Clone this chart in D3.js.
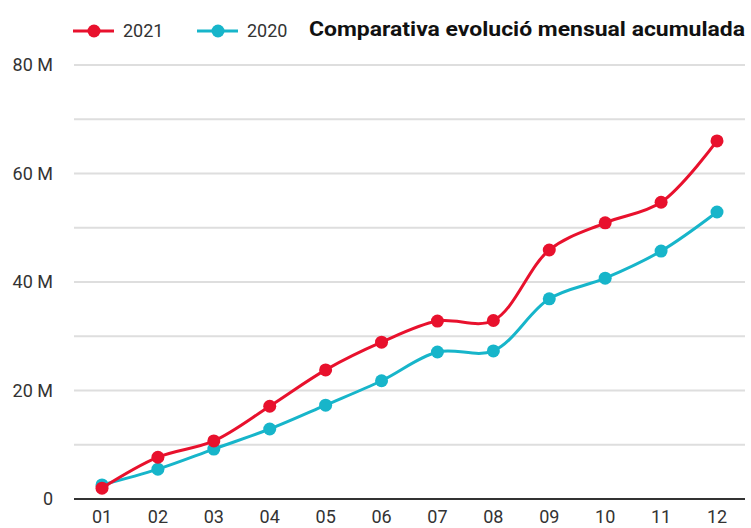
<!DOCTYPE html>
<html>
<head>
<meta charset="utf-8">
<script src="https://cdn.jsdelivr.net/npm/d3@7"></script>
<style>
  body { margin: 0; background: #fff; }
  text { font-family: Roboto, sans-serif; }
</style>
</head>
<body>
<div id="chart"></div>
<script>
const months = ['01', '02', '03', '04', '05', '06', '07', '08', '09', '10', '11', '12'];
const values2021 = [2.0, 7.7, 10.7, 17.1, 23.8, 28.9, 32.8, 32.9, 45.9, 50.9, 54.7, 66.0];
const values2020 = [2.6, 5.5, 9.2, 12.9, 17.3, 21.8, 27.1, 27.3, 36.9, 40.7, 45.7, 52.9];
const yTicks = [0, 20, 40, 60, 80];
const gridTicks = [0, 10, 20, 30, 40, 50, 60, 70, 80];
const seriesNames = ['2021', '2020'];
const colors = ['#e8112d', '#17b5ca'];
const title = 'Comparativa evolució mensual acumulada';

const width = 751, height = 528;
const svg = d3.select('#chart').append('svg')
  .attr('width', width)
  .attr('height', height);

const x = d3.scalePoint().domain(months).range([102, 717]);
const y = d3.scaleLinear().domain([0, 80]).range([499, 65]);

// gridlines
svg.selectAll('.grid')
  .data(gridTicks.filter(d => d > 0))
  .enter()
  .append('line')
  .attr('x1', 74).attr('x2', 745)
  .attr('y1', d => y(d)).attr('y2', d => y(d))
  .attr('stroke', '#dedede')
  .attr('stroke-width', 2);

// baseline
svg.append('line')
  .attr('x1', 74).attr('x2', 745)
  .attr('y1', y(0)).attr('y2', y(0))
  .attr('stroke', '#333')
  .attr('stroke-width', 2);

// y labels
svg.selectAll('.ylab')
  .data(yTicks)
  .enter()
  .append('text')
  .attr('x', 53)
  .attr('y', d => y(d))
  .attr('dy', '0.35em')
  .attr('text-anchor', 'end')
  .attr('font-size', 18)
  .attr('fill', '#333')
  .text(d => d === 0 ? '0' : d + ' M');

// x labels
svg.selectAll('.xlab')
  .data(months)
  .enter()
  .append('text')
  .attr('x', d => x(d))
  .attr('y', 523)
  .attr('text-anchor', 'middle')
  .attr('font-size', 18)
  .attr('fill', '#333')
  .text(d => d);

const line = d3.line()
  .x((d, i) => x(months[i]))
  .y(d => y(d))
  .curve(d3.curveCatmullRom.alpha(0.5));

const series = [values2020, values2021];
const seriesColors = [colors[1], colors[0]];

series.forEach((vals, k) => {
  svg.append('path')
    .datum(vals)
    .attr('d', line)
    .attr('fill', 'none')
    .attr('stroke', seriesColors[k])
    .attr('stroke-width', 3);

  svg.selectAll('.dot' + k)
    .data(vals)
    .enter()
    .append('circle')
    .attr('cx', (d, i) => x(months[i]))
    .attr('cy', d => y(d))
    .attr('r', 6.5)
    .attr('fill', seriesColors[k]);
});

// legend
const legendX = [73, 197];
seriesNames.forEach((name, i) => {
  const g = svg.append('g').attr('transform', `translate(${legendX[i]},31)`);
  g.append('line')
    .attr('x1', 0).attr('x2', 41)
    .attr('stroke', colors[i])
    .attr('stroke-width', 3);
  g.append('circle')
    .attr('cx', 21).attr('r', 6.5)
    .attr('fill', colors[i]);
  g.append('text')
    .attr('x', 50)
    .attr('dy', '0.35em')
    .attr('font-size', 18)
    .attr('fill', '#333')
    .text(name);
});

svg.append('text')
  .attr('x', 309)
  .attr('y', 36)
  .attr('font-size', 20)
  .attr('font-weight', 'bold')
  .attr('fill', '#111')
  .attr('textLength', 436)
  .attr('lengthAdjust', 'spacingAndGlyphs')
  .text(title);
</script>
</body>
</html>
